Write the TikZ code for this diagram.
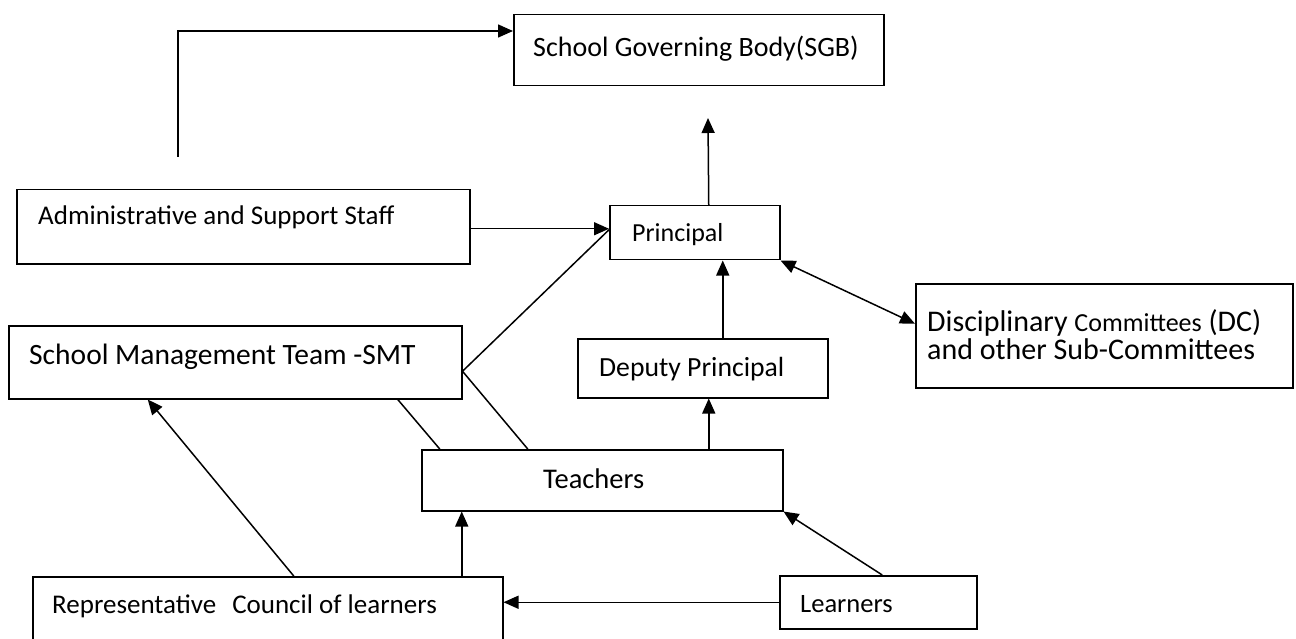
\documentclass[tikz,border=0pt]{standalone}
\usepackage{fontspec}
\setmainfont{Carlito}
\usetikzlibrary{arrows.meta,calc}
\begin{document}
\begin{tikzpicture}[x=1pt,y=-1pt,
  box/.style={draw, line width=1.5pt, rectangle, inner sep=0pt, anchor=north west},
  lbl/.style={anchor=base west, inner sep=0pt},
  ln/.style={line width=1.5pt},
  arr/.style={line width=1.5pt, -{Triangle[length=15pt,width=13pt]}},
  arrtwo/.style={line width=1.5pt, {Triangle[length=15pt,width=13pt]}-{Triangle[length=15pt,width=13pt]}}]
\clip (0,0) rectangle (1296,639);
\fill[white] (0,0) rectangle (1296,639);

% boxes
\node[box, minimum width=370pt, minimum height=71pt] (sgb) at (513,14) {};
\node[box, minimum width=453pt, minimum height=74pt] (admin) at (16,189) {};
\node[box, minimum width=170pt, minimum height=54pt] (principal) at (609,205) {};
\node[box, minimum width=453pt, minimum height=73pt] (smt) at (8,325) {};
\node[box, minimum width=250pt, minimum height=59pt] (deputy) at (577,338) {};
\node[box, minimum width=377pt, minimum height=104pt] (dc) at (915,283) {};
\node[box, minimum width=361pt, minimum height=61pt] (teachers) at (421,449) {};
\node[box, minimum width=470pt, minimum height=90pt] (rcl) at (32,576) {};
\node[box, minimum width=197pt, minimum height=53pt] (learners) at (779,575) {};

% texts
\node[lbl, font=\fontsize{28}{30}\selectfont] (tsgb) at (533,57) {School Governing Body(SGB)};
\node[lbl, font=\fontsize{27}{30}\selectfont] (tadmin) at (38,225) {Administrative and Support Staff};
\node[lbl, font=\fontsize{26}{30}\selectfont] (tprincipal) at (632,241) {Principal};
\node[lbl, font=\fontsize{29.5}{30}\selectfont] (tsmt) at (29,364) {School Management Team -SMT};
\node[lbl, font=\fontsize{27.7}{30}\selectfont] (tdeputy) at (599,376) {Deputy Principal};
\node[lbl, font=\fontsize{28.5}{30}\selectfont] (tteachers) at (543,488) {Teachers};
\node[lbl, font=\fontsize{26.5}{30}\selectfont] (tlearners) at (800,612) {Learners};
\node[lbl, font=\fontsize{27}{30}\selectfont] (trcl) at (52,613) {Representative\hspace{16pt}Council of learners};
\node[lbl, font=\fontsize{30}{30}\selectfont] (tdcone) at (927,331)
  {Disciplinary {\fontsize{26}{27}\selectfont Committees} (DC)};
\node[lbl, font=\fontsize{30}{30}\selectfont] (tdctwo) at (927,359)
  {and other Sub-Committees};

% connectors
\coordinate (adminup) at (178,157);
\coordinate (sgbin) at (708,118);
\draw[arr] (adminup) |- ([yshift=-17pt]sgb.north west);
\draw[arr] ([xshift=14pt]principal.north) -- (sgbin);
\draw[arr] ([yshift=-2pt]admin.east) -- ([yshift=-2pt]admin.east -| principal.west);
\draw[ln] ([yshift=-9pt]smt.east) -- ([yshift=3pt]principal.west);
\draw[ln] ([yshift=-9pt]smt.east) -- ([xshift=-74.5pt]teachers.north);
\draw[ln] ([xshift=162.5pt]smt.south) -- ([xshift=-162.5pt]teachers.north);
\draw[arr] ([xshift=20pt]deputy.north) -- ([xshift=20pt]deputy.north |- principal.south);
\draw[arrtwo] (principal.south east) -- ([yshift=12pt]dc.west);
\draw[arr] ([xshift=106.5pt]teachers.north) -- ([xshift=106.5pt]teachers.north |- deputy.south);
\draw[arr] ([xshift=194pt]rcl.north) -- ([xshift=194pt]rcl.north |- teachers.south);
\draw[arr] ([xshift=26pt]rcl.north) -- ([xshift=-87.5pt]smt.south);
\draw[arr] ([xshift=4pt]learners.north) -- (teachers.south east);
\draw[arr] (learners.west) -- (learners.west -| rcl.east);
\end{tikzpicture}
\end{document}
